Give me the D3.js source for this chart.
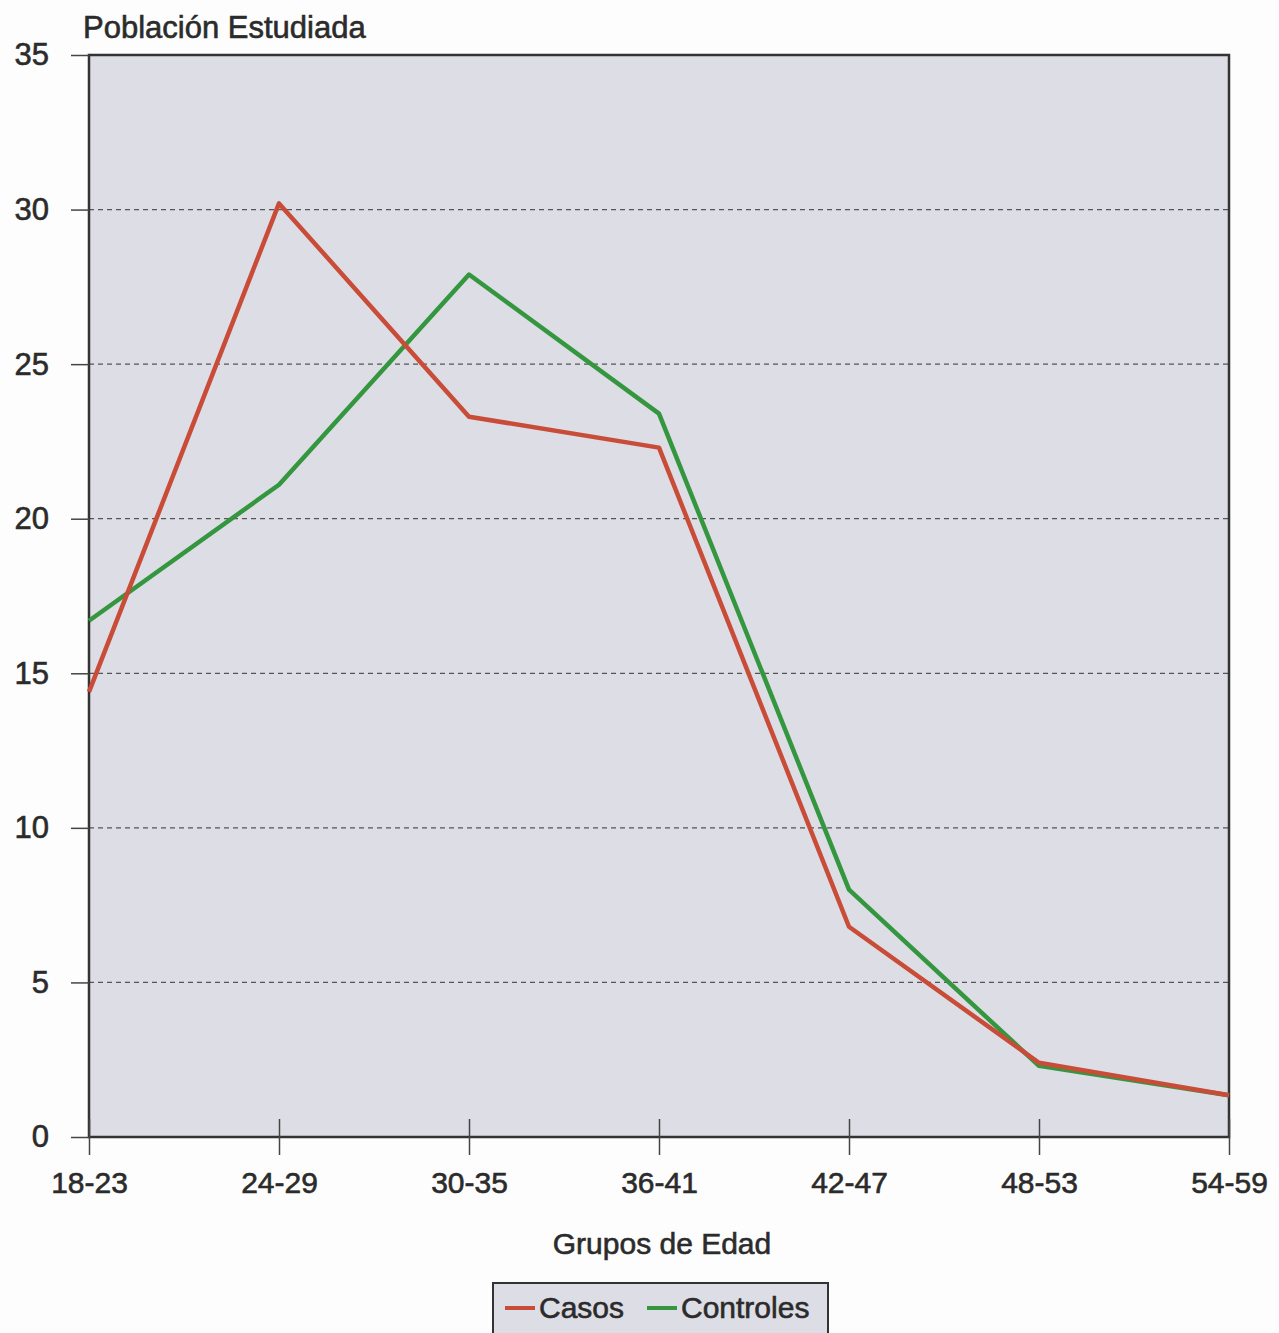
<!DOCTYPE html>
<html>
<head>
<meta charset="utf-8">
<script src="https://cdn.jsdelivr.net/npm/d3@7"></script>
<style>
  body { margin: 0; background: #fdfdfd; }
  text { font-family: "Liberation Sans", Arial, sans-serif; fill: #2b2b2b; stroke: #2b2b2b; stroke-width: 0.6px; }
</style>
</head>
<body>
<svg id="chart" width="1279" height="1333"></svg>
<script>
var grupos = ["18-23", "24-29", "30-35", "36-41", "42-47", "48-53", "54-59"];
var casos = [14.4, 30.2, 23.3, 22.3, 6.8, 2.4, 1.35];
var controles = [16.7, 21.1, 27.9, 23.4, 8.0, 2.3, 1.35];
var yTicks = [0, 5, 10, 15, 20, 25, 30, 35];

var svg = d3.select("#chart"),
    margin = {top: 55, right: 50, bottom: 196, left: 89},
    width = 1279 - margin.left - margin.right,
    height = 1333 - margin.top - margin.bottom;

var x = d3.scalePoint().domain(grupos).range([0, width]);
var y = d3.scaleLinear().domain([0, 35]).range([height, 0]);

var g = svg.append("g")
    .attr("transform", "translate(" + margin.left + "," + margin.top + ")");

// plot background
g.append("rect")
    .attr("width", width)
    .attr("height", height)
    .attr("fill", "#dddde5");

// dashed grid
g.append("g").selectAll("line")
    .data(yTicks.filter(function(d) { return d > 0 && d < 35; }))
    .enter().append("line")
    .attr("x1", 0).attr("x2", width)
    .attr("y1", function(d) { return y(d); })
    .attr("y2", function(d) { return y(d); })
    .attr("stroke", "#555")
    .attr("stroke-width", 1.2)
    .attr("stroke-dasharray", "5,4");

// frame
g.append("rect")
    .attr("width", width)
    .attr("height", height)
    .attr("fill", "none")
    .attr("stroke", "#333")
    .attr("stroke-width", 2.5);

// y axis
var yAxis = g.append("g")
    .call(d3.axisLeft(y).tickValues(yTicks).tickSize(18).tickPadding(22));
yAxis.select(".domain").remove();
yAxis.selectAll(".tick line").attr("stroke", "#444").attr("stroke-width", 1.5);
yAxis.selectAll(".tick text")
    .style("font-size", "31px")
    .attr("fill", "#2b2b2b");

// x axis
var xAxis = g.append("g")
    .attr("transform", "translate(0," + height + ")")
    .call(d3.axisBottom(x).tickSizeInner(18).tickSizeOuter(0).tickPadding(17));
xAxis.select(".domain").remove();
xAxis.selectAll(".tick line")
    .attr("y1", -18)
    .attr("stroke", "#444").attr("stroke-width", 1.5);
xAxis.selectAll(".tick text")
    .style("font-size", "30px")
    .attr("fill", "#2b2b2b");

var line = d3.line()
    .x(function(d, i) { return x(grupos[i]); })
    .y(function(d) { return y(d); });

g.append("path")
    .datum(controles)
    .attr("fill", "none")
    .attr("stroke", "#34963f")
    .attr("stroke-width", 4.5)
    .attr("stroke-linejoin", "round")
    .attr("d", line);

g.append("path")
    .datum(casos)
    .attr("fill", "none")
    .attr("stroke", "#c84c38")
    .attr("stroke-width", 4.5)
    .attr("stroke-linejoin", "round")
    .attr("d", line);

// titles
svg.append("text")
    .attr("x", 83)
    .attr("y", 38)
    .style("font-size", "31px")
    .text("Población Estudiada");

svg.append("text")
    .attr("x", 662)
    .attr("y", 1254)
    .attr("text-anchor", "middle")
    .style("font-size", "30px")
    .text("Grupos de Edad");

// legend
var legend = svg.append("g").attr("transform", "translate(493,1283)");
legend.append("rect")
    .attr("width", 335)
    .attr("height", 60)
    .attr("fill", "#dddde5")
    .attr("stroke", "#333")
    .attr("stroke-width", 2);

var items = [
    {name: "Casos", color: "#c84c38", x: 12},
    {name: "Controles", color: "#34963f", x: 154}
];
var item = legend.selectAll(".item")
    .data(items)
    .enter().append("g")
    .attr("transform", function(d) { return "translate(" + d.x + ",0)"; });
item.append("line")
    .attr("x1", 0).attr("x2", 30)
    .attr("y1", 25).attr("y2", 25)
    .attr("stroke", function(d) { return d.color; })
    .attr("stroke-width", 4);
item.append("text")
    .attr("x", 34)
    .attr("y", 35)
    .style("font-size", "30px")
    .text(function(d) { return d.name; });
</script>
</body>
</html>
